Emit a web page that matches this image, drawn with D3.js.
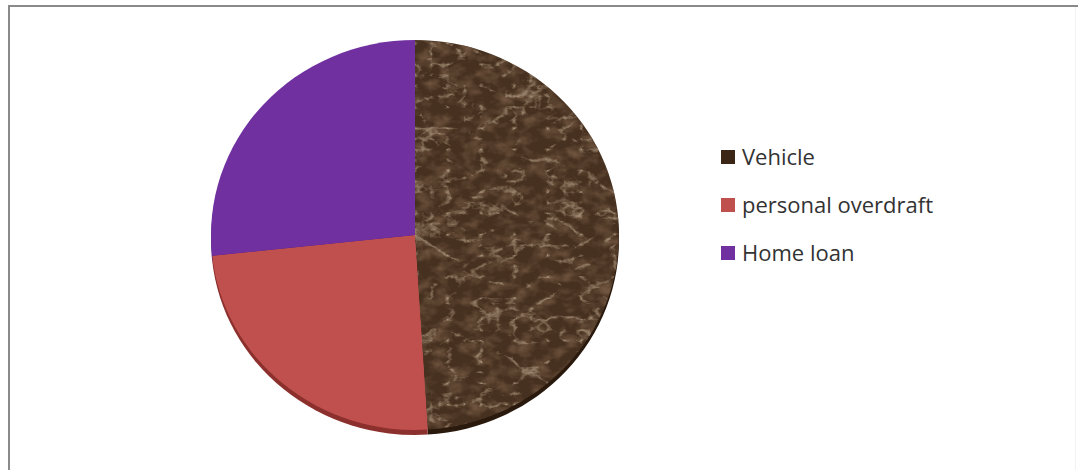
<!DOCTYPE html>
<html>
<head>
<meta charset="utf-8">
<script src="https://cdn.jsdelivr.net/npm/d3@7"></script>
<style>
  body { margin: 0; background: #fff; }
  svg { display: block; }
</style>
</head>
<body>
<div id="chart"></div>
<script>
// chart data
var categories = ["Vehicle", "personal overdraft", "Home loan"];
var values = [49, 24.3, 26.7];
var colors = ["#46301f", "#c0504d", "#7030a0"];
var sideColors = ["#2a1a0e", "#8c302d", "#4f1f72"];
var legendColors = ["#3b2616", "#c0504d", "#7030a0"];

var w = 1078;
var h = 470;

var svg = d3.select("#chart")
    .append("svg")
    .attr("width", w)
    .attr("height", h);

// marble texture for the Vehicle slice: light veins with alpha over dark brown
var defs = svg.append("defs");
var marble = defs.append("filter")
    .attr("id", "marble")
    .attr("x", 0).attr("y", 0)
    .attr("width", 1).attr("height", 1)
    .attr("filterUnits", "objectBoundingBox");
marble.append("feTurbulence")
    .attr("type", "turbulence")
    .attr("baseFrequency", "0.03 0.045")
    .attr("numOctaves", 4)
    .attr("seed", 3)
    .attr("result", "noise");
marble.append("feColorMatrix")
    .attr("in", "noise")
    .attr("type", "matrix")
    .attr("values",
        "0 0 0 0 0.62 " +
        "0 0 0 0 0.48 " +
        "0 0 0 0 0.33 " +
        "-3.2 0 0 0 0.62")
    .attr("result", "veins");
// mottling: darker blotches
marble.append("feTurbulence")
    .attr("type", "fractalNoise")
    .attr("baseFrequency", "0.06 0.08")
    .attr("numOctaves", 3)
    .attr("seed", 11)
    .attr("result", "noise2");
marble.append("feColorMatrix")
    .attr("in", "noise2")
    .attr("type", "matrix")
    .attr("values",
        "0 0 0 0 0.16 " +
        "0 0 0 0 0.09 " +
        "0 0 0 0 0.05 " +
        "2.2 0 0 0 -0.9")
    .attr("result", "blotch");
marble.append("feMerge")
    .call(function (m) {
        m.append("feMergeNode").attr("in", "blotch");
        m.append("feMergeNode").attr("in", "veins");
    })
    .attr("result", "tex");
marble.append("feComposite")
    .attr("in", "tex")
    .attr("in2", "SourceGraphic")
    .attr("operator", "in");

// frame
svg.append("path")
    .attr("d", "M9," + h + " V6 H" + w)
    .attr("fill", "none")
    .attr("stroke", "#8a8a8a")
    .attr("stroke-width", 2);
svg.append("line")
    .attr("x1", 1075.5).attr("x2", 1075.5)
    .attr("y1", 7).attr("y2", h)
    .attr("stroke", "#f2f2f2")
    .attr("stroke-width", 1);

// pie geometry
var cx = 415, cy = 235;
var rx = 204, ry = 195;
var depth = 5;

var pie = d3.pie().sort(null).value(function (d) { return d; });
var arcs = pie(values);
var arc = d3.arc().innerRadius(0).outerRadius(rx);

// side (3d edge)
var sideFace = svg.append("g")
    .attr("transform", "translate(" + cx + "," + (cy + depth) + ") scale(1," + (ry / rx) + ")");
sideFace.selectAll("path")
    .data(arcs)
    .enter()
    .append("path")
    .attr("d", arc)
    .attr("fill", function (d, i) { return sideColors[i]; });

// top face
var topFace = svg.append("g")
    .attr("transform", "translate(" + cx + "," + cy + ") scale(1," + (ry / rx) + ")");
topFace.selectAll("path.slice")
    .data(arcs)
    .enter()
    .append("path")
    .attr("class", "slice")
    .attr("d", arc)
    .attr("fill", function (d, i) { return colors[i]; });
// texture over the first slice
topFace.append("path")
    .attr("d", arc(arcs[0]))
    .attr("fill", "#000")
    .attr("filter", "url(#marble)");

// legend
var legend = svg.append("g")
    .attr("transform", "translate(721,0)");
var items = legend.selectAll("g")
    .data(categories)
    .enter()
    .append("g")
    .attr("transform", function (d, i) { return "translate(0," + (165 + i * 48) + ")"; });
items.append("rect")
    .attr("x", 0)
    .attr("y", -15)
    .attr("width", 14)
    .attr("height", 14)
    .attr("fill", function (d, i) { return legendColors[i]; });
items.append("text")
    .attr("x", 21)
    .attr("y", 0)
    .attr("font-family", "'Open Sans', sans-serif")
    .attr("font-size", 22)
    .attr("fill", "#333")
    .text(function (d) { return d; });
</script>
</body>
</html>
